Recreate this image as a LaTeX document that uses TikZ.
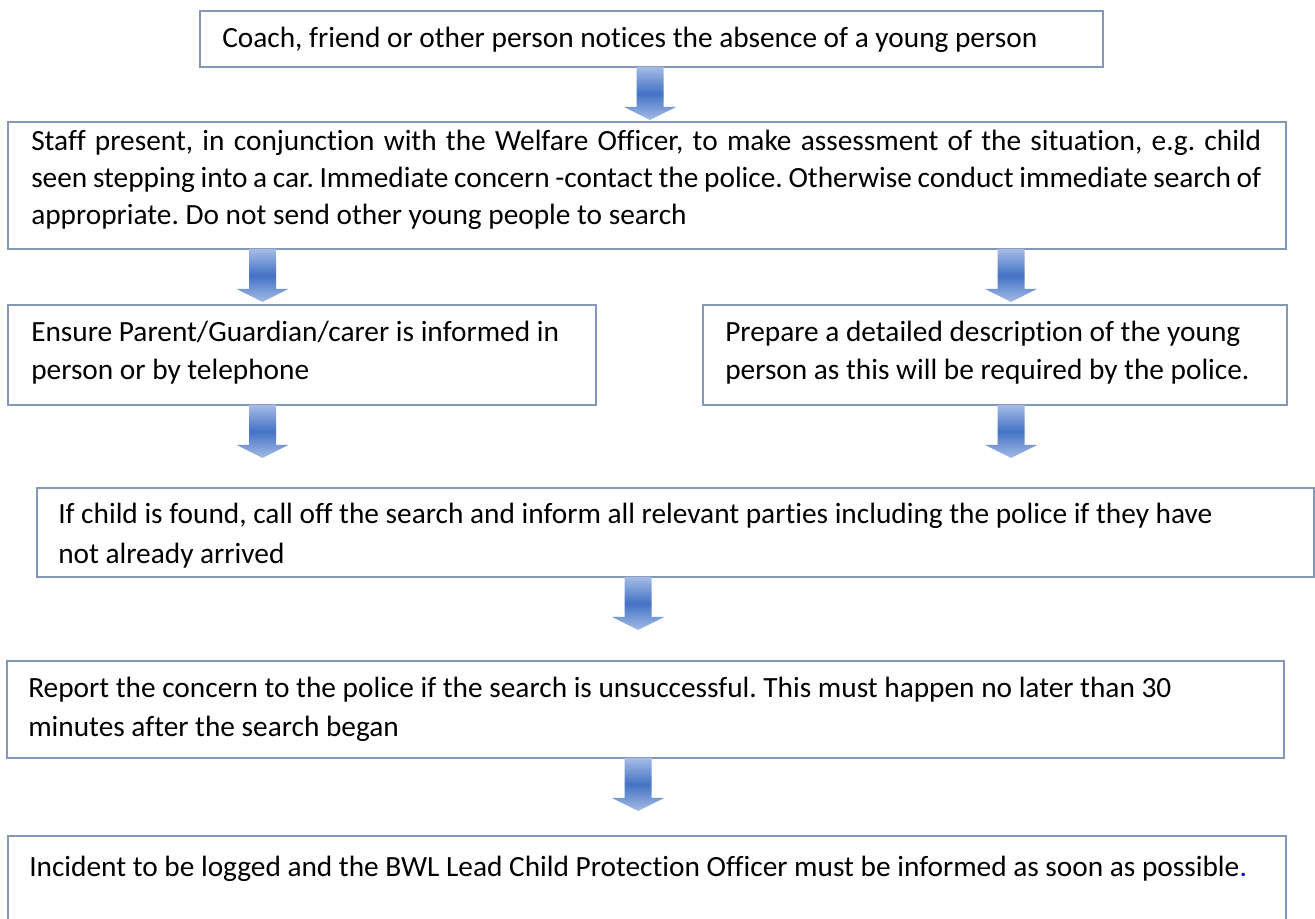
\documentclass[tikz,border=0pt]{standalone}
\usepackage{fontspec}
\setmainfont[Ligatures=NoCommon]{Carlito}
\frenchspacing
\definecolor{boxline}{RGB}{132,151,185}
\definecolor{arrdark}{RGB}{68,114,196}
\definecolor{arrlight}{RGB}{165,188,230}
\tikzset{
  box/.style={draw=boxline, line width=1.1pt, fill=white, inner sep=0pt, outer sep=0pt, anchor=north west},
  txt/.style={inner sep=0pt, anchor=base west, font=\fontsize{22}{28.5}\selectfont},
  blockarrow/.pic={
    \shade[top color=arrlight, bottom color=arrlight, middle color=arrdark]
      (-13.5,0) -- (13.5,0) -- (13.5,40) -- (26,40) -- (0,53) -- (-26,40) -- (-13.5,40) -- cycle;
  }
}
\begin{document}
\begin{tikzpicture}[x=0.75pt,y=-0.75pt]
\useasboundingbox (0,0) rectangle (1315,919);
% boxes
\node[box, minimum width=903*0.75pt, minimum height=56*0.75pt] (b1) at (200,11) {};
\node[box, minimum width=1278*0.75pt, minimum height=127*0.75pt] (b2) at (8,122) {};
\node[box, minimum width=588*0.75pt, minimum height=100*0.75pt] (b3) at (8,305) {};
\node[box, minimum width=584*0.75pt, minimum height=100*0.75pt] (b4) at (703,305) {};
\node[box, minimum width=1277*0.75pt, minimum height=89*0.75pt] (b5) at (37,488) {};
\node[box, minimum width=1277*0.75pt, minimum height=97*0.75pt] (b6) at (7,661) {};
\node[box, minimum width=1278*0.75pt, minimum height=110*0.75pt] (b7) at (8,836) {};
% texts
\node[txt] (t1) at (222,48) {Coach, friend or other person notices the absence of a young person};
\node[txt, font=\fontsize{22}{27.75}\selectfont] (t2) at (31,151) {\parbox[t]{922.5pt}{%
\makebox[\linewidth][s]{Staff present, in conjunction with the Welfare Officer, to make assessment of the situation, e.g. child}\\
\makebox[\linewidth][s]{seen stepping into a car. Immediate concern -contact the police. Otherwise conduct immediate search of}\\
appropriate. Do not send other young people to search}};
\node[txt] (t3) at (31,342) {\parbox[t]{420pt}{Ensure Parent/Guardian/carer is informed in\\ person or by telephone}};
\node[txt] (t4) at (725,342) {\parbox[t]{420pt}{Prepare a detailed description of the young\\ person as this will be required by the police.}};
\node[txt, font=\fontsize{22}{30}\selectfont] (t5) at (58,524) {\parbox[t]{930pt}{If child is found, call off the search and inform all relevant parties including the police if they have\\ not already arrived}};
\node[txt, font=\fontsize{22}{29.25}\selectfont] (t6) at (28,698) {\parbox[t]{930pt}{Report the concern to the police if the search is unsuccessful. This must happen no later than 30\\ minutes after the search began}};
\node[txt] (t7) at (29,876) {Incident to be logged and the BWL Lead Child Protection Officer must be informed as soon as possible\textcolor{blue}{.}};
% block arrows
\pic at (650,0 |- b1.south) {blockarrow};
\pic at (262.5,0 |- b2.south) {blockarrow};
\pic at (1011,0 |- b2.south) {blockarrow};
\pic at (262.5,0 |- b3.south) {blockarrow};
\pic at (1011,0 |- b4.south) {blockarrow};
\pic at (638,0 |- b5.south) {blockarrow};
\pic at (638,0 |- b6.south) {blockarrow};
\end{tikzpicture}
\end{document}
